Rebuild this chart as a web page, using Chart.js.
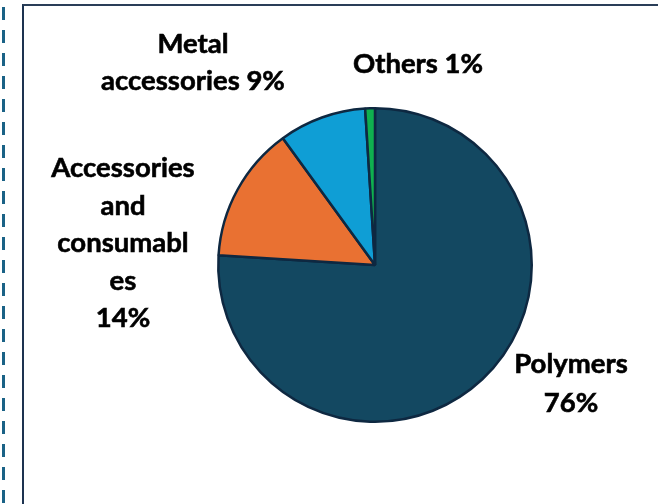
<!DOCTYPE html>
<html>
<head>
<meta charset="utf-8">
<script src="https://cdn.jsdelivr.net/npm/chart.js@4.4.1/dist/chart.umd.min.js"></script>
<style>
    html, body { margin: 0; padding: 0; background: #fff; overflow: hidden; }
    #wrap { position: relative; width: 658px; height: 504px; }
    #dash {
        position: absolute; left: 2px; top: 7px; width: 3px; height: 497px;
        background: repeating-linear-gradient(to bottom, #1a6286 0 13px, transparent 13px 23px);
    }
    #frame {
        position: absolute; left: 22px; top: 4px; width: 660px; height: 520px;
        border-left: 2px solid #1d3350; border-top: 2px solid #2a3e58;
    }
    canvas { position: absolute; left: 0; top: 0; }
</style>
</head>
<body>
<div id="wrap">
    <div id="dash"></div>
    <div id="frame"></div>
    <canvas id="pie" width="658" height="504"></canvas>
</div>
<script>
// Data
const categories = ['Polymers', 'Accessories and consumables', 'Metal accessories', 'Others'];
const shares = [76, 14, 9, 1];
const sliceColors = ['#134861', '#E97132', '#0F9ED5', '#0FB04F'];

// How each label is wrapped, {p} is replaced by the percentage
const labelLines = [
    ['Polymers', '{p}'],
    ['Accessories', 'and', 'consumabl', 'es', '{p}'],
    ['Metal', 'accessories {p}'],
    ['Others {p}']
];

// Label anchors: centre x, first baseline y, line height
const labelAnchors = [
    { x: 571, y: 373, lh: 38.5 },
    { x: 123, y: 177, lh: 37.5 },
    { x: 193, y: 53, lh: 37 },
    { x: 418, y: 73, lh: 37 }
];

const outsideLabels = {
    id: 'outsideLabels',
    afterDraw(chart) {
        const ctx = chart.ctx;
        const values = chart.data.datasets[0].data;
        const total = values.reduce((a, b) => a + b, 0);
        ctx.save();
        ctx.font = 'bold 27.5px Lato';
        ctx.fillStyle = '#000';
        ctx.strokeStyle = '#000';
        ctx.lineWidth = 0.6;
        ctx.textAlign = 'center';
        ctx.textBaseline = 'alphabetic';
        values.forEach((v, i) => {
            const pct = Math.round(v / total * 100) + '%';
            const a = labelAnchors[i];
            labelLines[i].forEach((line, j) => {
                const txt = line.replace('{p}', pct);
                ctx.fillText(txt, a.x, a.y + j * a.lh);
                ctx.strokeText(txt, a.x, a.y + j * a.lh);
            });
        });
        ctx.restore();
    }
};

const ctx = document.getElementById('pie').getContext('2d');
new Chart(ctx, {
    type: 'pie',
    data: {
        labels: categories,
        datasets: [{
            data: shares,
            backgroundColor: sliceColors,
            borderColor: '#0E2841',
            borderWidth: 2.5
        }]
    },
    options: {
        responsive: false,
        animation: false,
        layout: { padding: { left: 217, top: 107, right: 125, bottom: 81 } },
        plugins: {
            legend: { display: false },
            tooltip: { enabled: false }
        }
    },
    plugins: [outsideLabels]
});
</script>
</body>
</html>
